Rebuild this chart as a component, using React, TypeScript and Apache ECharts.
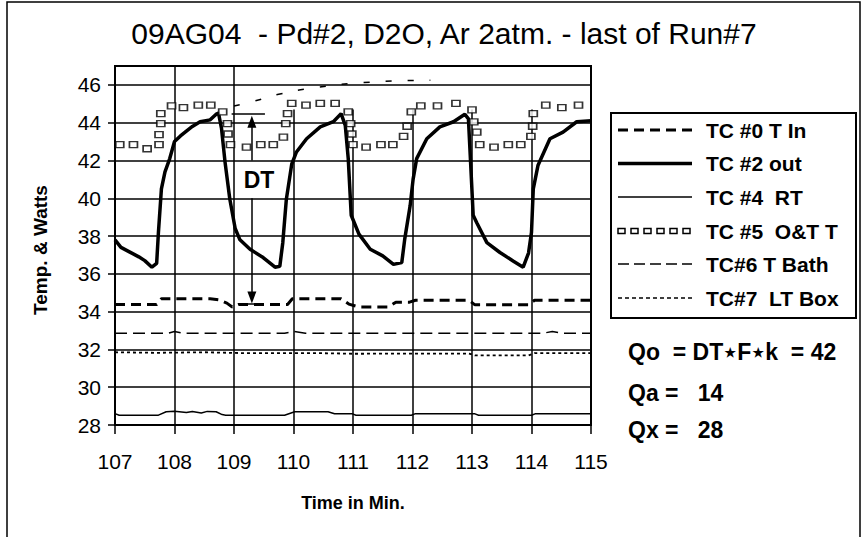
import React, { useEffect, useRef } from "react";
import * as echarts from "echarts";

// ---- data (time in min, value) ----
const tInData: [number, number][] = [
  [107.0, 34.38], [107.7, 34.38], [107.78, 34.68], [108.6, 34.68], [108.75, 34.62], [108.88, 34.45],
  [108.97, 34.25], [109.08, 34.38], [109.9, 34.38], [109.98, 34.68], [110.8, 34.68], [110.93, 34.4],
  [111.1, 34.25], [111.6, 34.25], [111.72, 34.5], [111.95, 34.5], [112.05, 34.6], [112.95, 34.6],
  [113.05, 34.36], [113.95, 34.36], [114.05, 34.6], [115.0, 34.6],
];

const outData: [number, number][] = [
  [107.0, 37.8], [107.1, 37.4], [107.25, 37.15], [107.4, 36.9], [107.5, 36.7], [107.62, 36.35],
  [107.7, 36.55], [107.73, 38.2], [107.78, 40.5], [107.84, 41.4], [107.92, 42.1], [108.0, 43.0],
  [108.1, 43.3], [108.2, 43.55], [108.3, 43.8], [108.43, 44.05], [108.6, 44.15], [108.7, 44.45],
  [108.74, 44.5], [108.79, 43.7], [108.85, 41.9], [108.93, 39.95], [109.02, 38.4], [109.1, 37.8],
  [109.27, 37.3], [109.49, 36.86], [109.69, 36.35], [109.77, 36.4], [109.82, 37.65], [109.88, 39.95],
  [109.97, 41.8], [110.05, 42.45], [110.22, 43.15], [110.45, 43.78], [110.67, 44.05], [110.8, 44.48],
  [110.87, 43.86], [110.92, 42.1], [110.97, 39.1], [111.1, 38.1], [111.29, 37.3], [111.5, 36.95],
  [111.68, 36.5], [111.82, 36.6], [111.87, 37.85], [111.96, 39.6], [112.01, 41.0], [112.07, 42.1],
  [112.24, 43.15], [112.46, 43.78], [112.69, 44.05], [112.88, 44.45], [112.94, 44.2], [112.97, 42.3],
  [113.02, 39.1], [113.08, 38.7], [113.25, 37.65], [113.47, 37.13], [113.69, 36.68], [113.86, 36.35],
  [113.95, 37.1], [114.0, 38.2], [114.03, 40.5], [114.11, 41.75], [114.31, 43.15], [114.53, 43.5],
  [114.76, 44.05], [115.0, 44.1],
];

const rtData: [number, number][] = [
  [107.0, 28.6], [107.07, 28.52], [107.73, 28.52], [107.86, 28.7], [108.0, 28.73], [108.2, 28.66],
  [108.3, 28.72], [108.45, 28.64], [108.55, 28.72], [108.7, 28.7], [108.8, 28.55], [108.86, 28.52],
  [109.85, 28.52], [110.02, 28.7], [110.58, 28.7], [110.69, 28.6], [110.98, 28.6], [111.05, 28.52],
  [111.98, 28.52], [112.05, 28.6], [113.04, 28.6], [113.11, 28.52], [114.0, 28.52], [114.07, 28.6],
  [115.0, 28.6],
];

const otData: [number, number][] = [
  [107.08, 42.84], [107.31, 42.84], [107.54, 42.62], [107.74, 42.84], [107.74, 43.37], [107.77, 43.95],
  [107.77, 44.48], [107.95, 44.89], [108.15, 44.8], [108.4, 44.93], [108.61, 44.93], [108.81, 44.57],
  [108.89, 43.95], [108.9, 43.4], [108.94, 42.84], [109.21, 42.71], [109.45, 42.84], [109.66, 42.84],
  [109.83, 43.24], [109.87, 43.95], [109.9, 44.48], [109.97, 45.02], [110.21, 44.93], [110.45, 45.02],
  [110.7, 45.02], [110.92, 44.57], [110.96, 43.95], [110.98, 43.4], [111.0, 42.84], [111.22, 42.71],
  [111.47, 42.84], [111.67, 42.84], [111.85, 43.28], [111.91, 43.81], [111.98, 44.57], [112.14, 44.89],
  [112.42, 44.89], [112.73, 45.02], [113.0, 44.68], [113.03, 44.04], [113.08, 43.5], [113.13, 42.84],
  [113.37, 42.71], [113.61, 42.84], [113.82, 42.84], [113.99, 43.28], [114.02, 43.81], [114.03, 44.48],
  [114.24, 44.93], [114.51, 44.8], [114.79, 44.93],
];

const bathData: [number, number][] = [
  [107.0, 32.86], [107.9, 32.86], [108.0, 32.95], [108.15, 32.86], [109.85, 32.86], [110.0, 32.95],
  [110.2, 32.86], [114.2, 32.86], [114.35, 32.95], [114.5, 32.86], [115.0, 32.86],
];

const boxData: [number, number][] = [
  [107.0, 31.85], [107.7, 31.82], [108.5, 31.85], [109.2, 31.8], [110.5, 31.8], [111.0, 31.77],
  [112.0, 31.78], [112.95, 31.78], [113.05, 31.68], [113.95, 31.68], [114.05, 31.8], [115.0, 31.8],
];

const extraData: [number, number][] = [
  [109.0, 44.88], [109.35, 45.15], [109.75, 45.5], [110.3, 45.82], [111.15, 46.12], [112.3, 46.25],
];

const vGridX = [108, 109, 110, 111, 112, 113, 114];
const vGridTop = [47, 47, 44.7, 44.7, 44.7, 44.7, 44.7];

const legendLabels = [
  "TC #0 T In",
  "TC #2 out",
  "TC #4\u00a0\u00a0RT",
  "TC #5\u00a0\u00a0O&T T",
  "TC#6 T Bath",
  "TC#7\u00a0\u00a0LT Box",
];
const resultLabels = [
  "Qo\u00a0\u00a0=\u00a0DT\u22c6F\u22c6k\u00a0\u00a0=\u00a042",
  "Qa\u00a0=\u00a0\u00a0\u00a014",
  "Qx\u00a0=\u00a0\u00a0\u00a028",
];

const TITLE = "09AG04\u00a0\u00a0- Pd#2, D2O, Ar 2atm. - last of Run#7";
const FONT = "'Liberation Sans Narrow', 'Liberation Sans', Arial, sans-serif";

function buildOption(): any {
  const legendRowY = [130, 163.5, 197, 231, 264, 298];
  const sx1 = 618;
  const sx2 = 692;
  const samples: any[] = [];
  const sampleStyles = [
    { lineWidth: 3, lineDash: [10, 6] },
    { lineWidth: 3.5 },
    { lineWidth: 1.5 },
    null,
    { lineWidth: 1.5, lineDash: [11, 5] },
    { lineWidth: 1.5, lineDash: [4, 3] },
  ];
  sampleStyles.forEach((s, i) => {
    const y = legendRowY[i];
    if (s) {
      samples.push({
        type: "line",
        shape: { x1: sx1, y1: y, x2: sx2, y2: y },
        style: { stroke: "#000", ...s },
      });
    } else {
      for (let k = 0; k < 6; k++) {
        samples.push({
          type: "rect",
          shape: { x: sx1 + k * 13, y: y - 2.5, width: 7, height: 5 },
          style: { fill: "#fff", stroke: "#000", lineWidth: 1.5 },
        });
      }
    }
    samples.push({
      type: "text",
      x: 706,
      y,
      style: {
        text: legendLabels[i],
        font: `bold 21px ${FONT}`,
        fill: "#000",
        textVerticalAlign: "middle",
        verticalAlign: "middle",
      },
    });
  });

  const resultY = [352, 393, 430];
  const results = resultLabels.map((t, i) => ({
    type: "text",
    x: 628,
    y: resultY[i],
    style: {
      text: t,
      font: `bold 23px ${FONT}`,
      fill: "#000",
      textVerticalAlign: "middle",
      verticalAlign: "middle",
    },
  }));

  const black = "#000";

  return {
    animation: false,
    backgroundColor: "#fff",
    textStyle: { fontFamily: FONT },
    title: {
      text: TITLE,
      left: 439,
      top: 13,
      textAlign: "center",
      textStyle: { fontFamily: FONT, fontSize: 30, fontWeight: "normal", color: black },
    },
    grid: {
      left: 115,
      top: 66,
      width: 476,
      height: 359,
      show: true,
      borderColor: black,
      borderWidth: 2,
      backgroundColor: "transparent",
    },
    xAxis: {
      type: "value",
      min: 107,
      max: 115,
      interval: 1,
      axisLine: { lineStyle: { color: black, width: 2 } },
      axisTick: { show: true, length: 9, lineStyle: { color: black, width: 1.5 } },
      axisLabel: { color: black, fontSize: 21, margin: 26, fontFamily: FONT },
      splitLine: { show: false },
    },
    yAxis: {
      type: "value",
      min: 28,
      max: 47,
      interval: 2,
      axisLine: { show: true, lineStyle: { color: black, width: 2 } },
      axisTick: { show: true, length: 7, lineStyle: { color: black, width: 1.5 } },
      axisLabel: {
        color: black,
        fontSize: 21,
        margin: 14,
        fontFamily: FONT,
        showMaxLabel: false,
        formatter: (v: number) => (v === 47 ? "" : String(v)),
      },
      splitLine: { show: true, lineStyle: { color: black, width: 1.5 } },
    },
    series: [
      {
        name: "TC #0 T In",
        type: "line",
        data: tInData,
        symbol: "none",
        lineStyle: { color: black, width: 3, type: [10, 6] },
        z: 3,
        markLine: {
          silent: true,
          symbol: ["none", "none"],
          label: { show: false },
          lineStyle: { color: black, width: 1.5, type: "solid" },
          data: [
            [{ coord: [108.96, 44.48] }, { coord: [109.52, 44.48] }],
            [
              { coord: [109.3, 44.05], symbol: "triangle", symbolSize: [9, 12] },
              { coord: [109.3, 42.0], symbol: "none" },
            ],
            [
              { coord: [109.3, 40.0], symbol: "none" },
              { coord: [109.3, 34.75], symbol: "triangle", symbolSize: [9, 12] },
            ],
            [{ coord: [109.2, 34.4] }, { coord: [109.42, 34.4] }],
          ],
        },
        markPoint: {
          silent: true,
          symbol: "rect",
          symbolSize: 1,
          itemStyle: { color: "transparent" },
          label: {
            show: true,
            position: "inside",
            formatter: "DT",
            fontSize: 23,
            fontWeight: "bold",
            color: black,
            fontFamily: FONT,
          },
          data: [{ coord: [109.42, 40.97] }],
        },
      },
      {
        name: "TC #2 out",
        type: "line",
        data: outData,
        symbol: "none",
        lineStyle: { color: black, width: 3.5 },
        z: 4,
      },
      {
        name: "TC #4 RT",
        type: "line",
        data: rtData,
        symbol: "none",
        lineStyle: { color: black, width: 1.5 },
        z: 2,
        markLine: {
          silent: true,
          symbol: ["none", "none"],
          label: { show: false },
          lineStyle: { color: black, width: 1.5, type: "solid" },
          data: vGridX.map((x, i) => [{ coord: [x, vGridTop[i]] }, { coord: [x, 28] }]),
        },
      },
      {
        name: "TC #5 O&T T",
        type: "scatter",
        data: otData,
        symbol: "rect",
        symbolSize: [8, 6],
        itemStyle: { color: "#fff", borderColor: black, borderWidth: 1.5 },
        z: 5,
      },
      {
        name: "TC#6 T Bath",
        type: "line",
        data: bathData,
        symbol: "none",
        lineStyle: { color: black, width: 1.5, type: [12, 6] },
        z: 2,
      },
      {
        name: "TC#7 LT Box",
        type: "line",
        data: boxData,
        symbol: "none",
        lineStyle: { color: black, width: 1.8, type: [3, 3] },
        z: 2,
      },
      {
        name: "extra",
        type: "line",
        data: extraData,
        symbol: "none",
        smooth: true,
        lineStyle: { color: black, width: 1.5, type: [6, 16] },
        z: 2,
      },
    ],
    graphic: [
      {
        type: "rect",
        shape: { x: 7, y: 2, width: 853, height: 560 },
        style: { fill: "none", stroke: black, lineWidth: 1.5 },
        silent: true,
      },
      {
        type: "rect",
        shape: { x: 611, y: 113, width: 245, height: 205 },
        style: { fill: "#fff", stroke: black, lineWidth: 2 },
        silent: true,
      },
      ...samples,
      ...results,
      {
        type: "text",
        x: 40,
        y: 250,
        rotation: Math.PI / 2,
        style: {
          text: "Temp. & Watts",
          font: `bold 19px ${FONT}`,
          fill: black,
          textAlign: "center",
          align: "center",
          textVerticalAlign: "middle",
          verticalAlign: "middle",
        },
      },
      {
        type: "text",
        x: 353,
        y: 503,
        style: {
          text: "Time in Min.",
          font: `bold 18px ${FONT}`,
          fill: black,
          textAlign: "center",
          align: "center",
          textVerticalAlign: "middle",
          verticalAlign: "middle",
        },
      },
    ],
  };
}

export default function App() {
  const ref = useRef<HTMLDivElement>(null);
  useEffect(() => {
    document.body.style.margin = "0";
    const chart = echarts.init(ref.current!, null, { renderer: "svg" });
    chart.setOption(buildOption());
    return () => chart.dispose();
  }, []);
  return <div ref={ref} style={{ width: 865, height: 537 }} />;
}
